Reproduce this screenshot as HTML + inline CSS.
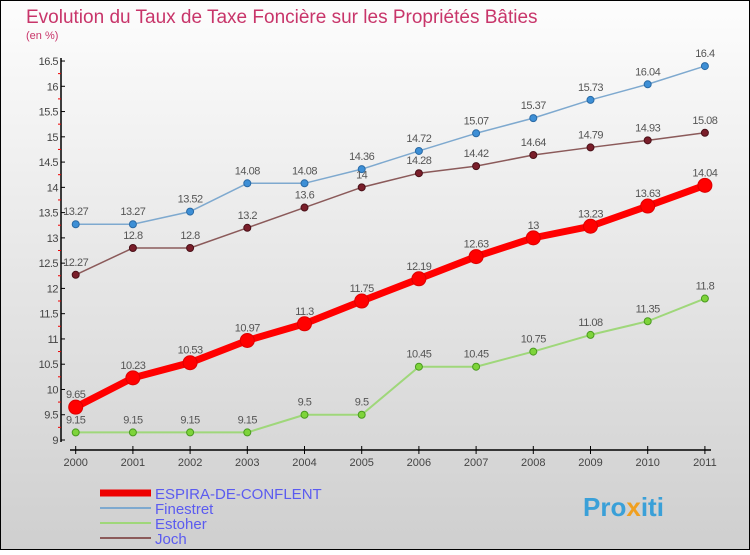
<!DOCTYPE html>
<html><head><meta charset="utf-8"><style>
body{margin:0;width:750px;height:550px;overflow:hidden;font-family:"Liberation Sans",sans-serif}
</style></head><body>
<svg width="750" height="550" xmlns="http://www.w3.org/2000/svg">
<defs><linearGradient id="bg" x1="0" y1="0" x2="0" y2="1"><stop offset="0" stop-color="#fdfdfd"/><stop offset="1" stop-color="#cfcfcf"/></linearGradient></defs>
<rect x="0.5" y="0.5" width="749" height="549" fill="url(#bg)" stroke="#000"/>
<text x="26" y="23" font-size="19" fill="#c8356a">Evolution du Taux de Taxe Foncière sur les Propriétés Bâties</text>
<text x="26" y="39" font-size="11" fill="#c8356a">(en %)</text>
<g id="axes"></g>
<g id="series"></g>
<g id="legend" font-size="15" fill="#5b5bf0">
<line x1="100" y1="493" x2="151" y2="493" stroke="#e00" stroke-width="7"/>
<text x="155" y="499" fill="#5b5bf0">ESPIRA-DE-CONFLENT</text>
<line x1="100" y1="508" x2="151" y2="508" stroke="#7ea9cf" stroke-width="2"/>
<text x="155" y="514" fill="#5b5bf0">Finestret</text>
<line x1="100" y1="523" x2="151" y2="523" stroke="#9fd77a" stroke-width="2"/>
<text x="155" y="529" fill="#5b5bf0">Estoher</text>
<line x1="100" y1="538" x2="151" y2="538" stroke="#8b5a5a" stroke-width="2"/>
<text x="155" y="544" fill="#5b5bf0">Joch</text>
</g>
<text x="583" y="516" font-size="26" font-weight="bold" fill="#3aa0d8">Pro<tspan fill="#f0a020">x</tspan>iti</text>
</svg>
<script>
const years=[2000,2001,2002,2003,2004,2005,2006,2007,2008,2009,2010,2011];
const espira=[9.65,10.23,10.53,10.97,11.3,11.75,12.19,12.63,13,13.23,13.63,14.04];
const finestret=[13.27,13.27,13.52,14.08,14.08,14.36,14.72,15.07,15.37,15.73,16.04,16.4];
const estoher=[9.15,9.15,9.15,9.15,9.5,9.5,10.45,10.45,10.75,11.08,11.35,11.8];
const joch=[12.27,12.8,12.8,13.2,13.6,14,14.28,14.42,14.64,14.79,14.93,15.08];
const yTicks=[9,9.5,10,10.5,11,11.5,12,12.5,13,13.5,14,14.5,15,15.5,16,16.5];
const NS="http://www.w3.org/2000/svg";
const X=i=>75.7+i*57.2;
const Y=v=>440-(v-9)*50.53;
function mk(t,a,p){const e=document.createElementNS(NS,t);for(const k in a)e.setAttribute(k,a[k]);p.appendChild(e);return e;}
const ax=document.getElementById('axes');
let l=mk('line',{x1:61,y1:58,x2:61,y2:442,stroke:'#000','stroke-width':1.5},ax);


l=mk('line',{x1:70,y1:450,x2:711,y2:450,stroke:'#000','stroke-width':1.5},ax);


yTicks.forEach((v,k)=>{
 const y=Y(v);
 mk('line',{x1:61,y1:y,x2:65,y2:y,stroke:'#000'},ax);
 if(k>0) mk('line',{x1:58,y1:y+12.6,x2:61,y2:y+12.6,stroke:'#e00'},ax);
 const t=mk('text',{x:58,y:y+4,'font-size':11,'text-anchor':'end',fill:'#444','letter-spacing':'-0.5'},ax);
 t.textContent=String(v);
 
 
});
years.forEach((yr,i)=>{
 mk('line',{x1:X(i),y1:446,x2:X(i),y2:454,stroke:'#000'},ax);
 const t=mk('text',{x:X(i),y:466,'font-size':11,'text-anchor':'middle',fill:'#444'},ax);
 t.textContent=yr;
 
 
});
const sg=document.getElementById('series');
function series(name,data,color,w,r,fill,stroke){
 const g=mk('g',{},sg);
 
 
 const p=mk('polyline',{points:data.map((v,i)=>X(i)+','+Y(v)).join(' '),fill:'none',stroke:color,'stroke-width':w,'stroke-linejoin':'round'},g);
 
 
 data.forEach((v,i)=>{
  const c=mk('circle',{cx:X(i),cy:Y(v),r:r,fill:fill,stroke:stroke,'stroke-width':1},g);
  
  
  const t=mk('text',{x:X(i),y:Y(v)-9,'font-size':11,'text-anchor':'middle',fill:'#555','letter-spacing':'-0.5'},g);
  t.textContent=String(v);
  
  
 });
}
series('finestret',finestret,'#7ea9cf',1.5,3.5,'#3d8fd6','#2a6aa5');
series('joch',joch,'#8b5a5a',1.5,3.5,'#7a1e2a','#4a1018');
series('estoher',estoher,'#9fd77a',2,3.5,'#7ed43a','#4a9a20');
series('espira',espira,'#f00',7,7,'#f00','#d00');
</script>
</body></html>
